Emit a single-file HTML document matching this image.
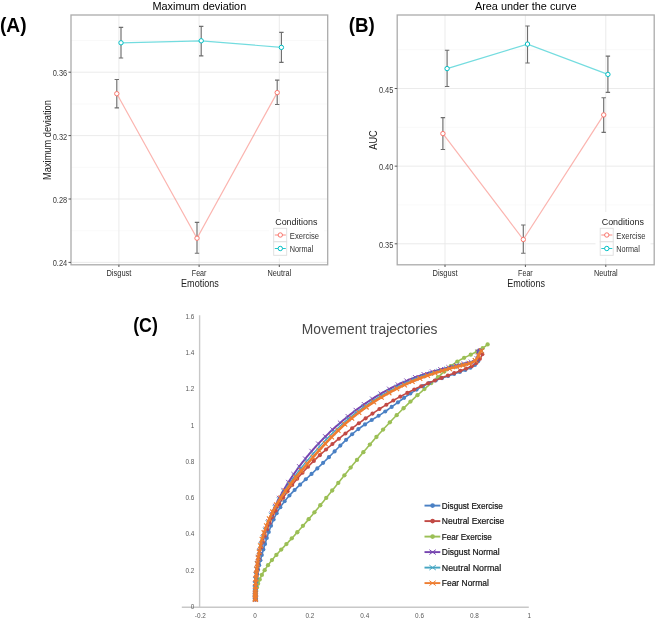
<!DOCTYPE html>
<html><head><meta charset="utf-8"><style>
html,body{margin:0;padding:0;background:#fff;width:660px;height:620px;overflow:hidden;position:relative}
svg{filter:blur(0.4px)}
</style></head><body>
<svg width="660" height="620" viewBox="0 0 660 620" style="position:absolute;left:0;top:0">
<g font-family='"Liberation Sans", sans-serif'>
<line x1="71" x2="327.7" y1="230.7" y2="230.7" stroke="#f7f7f7" stroke-width="0.8"/>
<line x1="71" x2="327.7" y1="167.3" y2="167.3" stroke="#f7f7f7" stroke-width="0.8"/>
<line x1="71" x2="327.7" y1="103.9" y2="103.9" stroke="#f7f7f7" stroke-width="0.8"/>
<line x1="71" x2="327.7" y1="40.5" y2="40.5" stroke="#f7f7f7" stroke-width="0.8"/>
<line x1="71" x2="327.7" y1="262.4" y2="262.4" stroke="#e9e9e9" stroke-width="0.9"/>
<line x1="71" x2="327.7" y1="199" y2="199" stroke="#e9e9e9" stroke-width="0.9"/>
<line x1="71" x2="327.7" y1="135.6" y2="135.6" stroke="#e9e9e9" stroke-width="0.9"/>
<line x1="71" x2="327.7" y1="72.2" y2="72.2" stroke="#e9e9e9" stroke-width="0.9"/>
<line x1="118.9" x2="118.9" y1="15.0" y2="264.8" stroke="#e9e9e9" stroke-width="0.9"/>
<line x1="199.1" x2="199.1" y1="15.0" y2="264.8" stroke="#e9e9e9" stroke-width="0.9"/>
<line x1="279.3" x2="279.3" y1="15.0" y2="264.8" stroke="#e9e9e9" stroke-width="0.9"/>
<rect x="269" y="212" width="55" height="46.5" fill="#fff"/>
<polyline points="116.8,93.7 197,238.2 277.2,92.6" fill="none" stroke="#F8766D" stroke-width="1.2" opacity="0.55"/>
<polyline points="121,42.8 201.2,40.8 281.4,47.4" fill="none" stroke="#00BFC4" stroke-width="1.2" opacity="0.55"/>
<path d="M116.8 79.5V107.8M114.6 79.5H119M114.6 107.8H119" stroke="#6e6e6e" stroke-width="1.15" fill="none"/>
<path d="M197 222.4V253.2M194.8 222.4H199.2M194.8 253.2H199.2" stroke="#6e6e6e" stroke-width="1.15" fill="none"/>
<path d="M277.2 80.1V104.5M275 80.1H279.4M275 104.5H279.4" stroke="#6e6e6e" stroke-width="1.15" fill="none"/>
<path d="M121 27.3V58M118.8 27.3H123.2M118.8 58H123.2" stroke="#6e6e6e" stroke-width="1.15" fill="none"/>
<path d="M201.2 26.3V55.9M199 26.3H203.4M199 55.9H203.4" stroke="#6e6e6e" stroke-width="1.15" fill="none"/>
<path d="M281.4 32.3V62.3M279.2 32.3H283.6M279.2 62.3H283.6" stroke="#6e6e6e" stroke-width="1.15" fill="none"/>
<circle cx="116.8" cy="93.7" r="2.2" fill="#fff" stroke="#F8766D" stroke-width="1"/>
<circle cx="197" cy="238.2" r="2.2" fill="#fff" stroke="#F8766D" stroke-width="1"/>
<circle cx="277.2" cy="92.6" r="2.2" fill="#fff" stroke="#F8766D" stroke-width="1"/>
<circle cx="121" cy="42.8" r="2.2" fill="#fff" stroke="#00BFC4" stroke-width="1"/>
<circle cx="201.2" cy="40.8" r="2.2" fill="#fff" stroke="#00BFC4" stroke-width="1"/>
<circle cx="281.4" cy="47.4" r="2.2" fill="#fff" stroke="#00BFC4" stroke-width="1"/>
<rect x="71" y="15.0" width="256.7" height="249.8" fill="none" stroke="#ababab" stroke-width="1.3"/>
<line x1="68.5" x2="71" y1="262.4" y2="262.4" stroke="#555" stroke-width="1"/>
<text transform="translate(67.2,266.4) scale(0.980,1.220)" font-size="7.6" fill="#3c3c3c" text-anchor="end">0.24</text>
<line x1="68.5" x2="71" y1="199" y2="199" stroke="#555" stroke-width="1"/>
<text transform="translate(67.2,203) scale(0.980,1.220)" font-size="7.6" fill="#3c3c3c" text-anchor="end">0.28</text>
<line x1="68.5" x2="71" y1="135.6" y2="135.6" stroke="#555" stroke-width="1"/>
<text transform="translate(67.2,139.6) scale(0.980,1.220)" font-size="7.6" fill="#3c3c3c" text-anchor="end">0.32</text>
<line x1="68.5" x2="71" y1="72.2" y2="72.2" stroke="#555" stroke-width="1"/>
<text transform="translate(67.2,76.2) scale(0.980,1.220)" font-size="7.6" fill="#3c3c3c" text-anchor="end">0.36</text>
<line x1="118.9" x2="118.9" y1="264.8" y2="267" stroke="#555" stroke-width="1"/>
<text transform="translate(118.9,275.9) scale(1.000,1.300)" font-size="7.5" fill="#2c2c2c" text-anchor="middle">Disgust</text>
<line x1="199.1" x2="199.1" y1="264.8" y2="267" stroke="#555" stroke-width="1"/>
<text transform="translate(199.1,275.9) scale(0.947,1.300)" font-size="7.5" fill="#2c2c2c" text-anchor="middle">Fear</text>
<line x1="279.3" x2="279.3" y1="264.8" y2="267" stroke="#555" stroke-width="1"/>
<text transform="translate(279.3,275.9) scale(0.980,1.300)" font-size="7.5" fill="#2c2c2c" text-anchor="middle">Neutral</text>
<text transform="translate(199.9,286.8) scale(0.994,1.180)" font-size="9.1" fill="#222" text-anchor="middle">Emotions</text>
<text transform="translate(199.35,9.5) scale(1.000,1.050)" font-size="10.9" fill="#000" text-anchor="middle">Maximum deviation</text>
<g transform="translate(50.5,140) rotate(-90)">
<text transform="translate(0,0) scale(1.021,1.150)" font-size="9.1" fill="#222" text-anchor="middle">Maximum deviation</text>
</g>
<text transform="translate(275.2,225.1) scale(0.973,1.050)" font-size="9.2" fill="#222" text-anchor="start">Conditions</text>
<rect x="273.7" y="228.3" width="13" height="13.5" fill="#fff" stroke="#dedede" stroke-width="0.9"/>
<line x1="274.8" x2="285.8" y1="235" y2="235" stroke="#F8766D" stroke-width="1" opacity="0.85"/>
<circle cx="280.3" cy="235" r="2.2" fill="#fff" stroke="#F8766D" stroke-width="1"/>
<text transform="translate(289.8,238.7) scale(0.992,1.100)" font-size="7.7" fill="#333" text-anchor="start">Exercise</text>
<rect x="273.7" y="241.8" width="13" height="13.5" fill="#fff" stroke="#dedede" stroke-width="0.9"/>
<line x1="274.8" x2="285.8" y1="248.5" y2="248.5" stroke="#00BFC4" stroke-width="1" opacity="0.85"/>
<circle cx="280.3" cy="248.5" r="2.2" fill="#fff" stroke="#00BFC4" stroke-width="1"/>
<text transform="translate(289.8,252.2) scale(0.947,1.100)" font-size="7.7" fill="#333" text-anchor="start">Normal</text>
<line x1="397.2" x2="654.2" y1="204.98" y2="204.98" stroke="#f7f7f7" stroke-width="0.8"/>
<line x1="397.2" x2="654.2" y1="127.33" y2="127.33" stroke="#f7f7f7" stroke-width="0.8"/>
<line x1="397.2" x2="654.2" y1="49.68" y2="49.68" stroke="#f7f7f7" stroke-width="0.8"/>
<line x1="397.2" x2="654.2" y1="243.8" y2="243.8" stroke="#e9e9e9" stroke-width="0.9"/>
<line x1="397.2" x2="654.2" y1="166.15" y2="166.15" stroke="#e9e9e9" stroke-width="0.9"/>
<line x1="397.2" x2="654.2" y1="88.5" y2="88.5" stroke="#e9e9e9" stroke-width="0.9"/>
<line x1="445" x2="445" y1="15.0" y2="264.8" stroke="#e9e9e9" stroke-width="0.9"/>
<line x1="525.4" x2="525.4" y1="15.0" y2="264.8" stroke="#e9e9e9" stroke-width="0.9"/>
<line x1="605.8" x2="605.8" y1="15.0" y2="264.8" stroke="#e9e9e9" stroke-width="0.9"/>
<rect x="595.5" y="212" width="55" height="46.5" fill="#fff"/>
<polyline points="442.9,133.6 523.3,239.5 603.7,114.9" fill="none" stroke="#F8766D" stroke-width="1.2" opacity="0.55"/>
<polyline points="447.1,68.6 527.5,44.1 607.9,74.4" fill="none" stroke="#00BFC4" stroke-width="1.2" opacity="0.55"/>
<path d="M442.9 117.6V149.5M440.7 117.6H445.1M440.7 149.5H445.1" stroke="#6e6e6e" stroke-width="1.15" fill="none"/>
<path d="M523.3 225V253.2M521.1 225H525.5M521.1 253.2H525.5" stroke="#6e6e6e" stroke-width="1.15" fill="none"/>
<path d="M603.7 97.7V132.3M601.5 97.7H605.9M601.5 132.3H605.9" stroke="#6e6e6e" stroke-width="1.15" fill="none"/>
<path d="M447.1 50.2V86.5M444.9 50.2H449.3M444.9 86.5H449.3" stroke="#6e6e6e" stroke-width="1.15" fill="none"/>
<path d="M527.5 26V63M525.3 26H529.7M525.3 63H529.7" stroke="#6e6e6e" stroke-width="1.15" fill="none"/>
<path d="M607.9 56.1V92.3M605.7 56.1H610.1M605.7 92.3H610.1" stroke="#6e6e6e" stroke-width="1.15" fill="none"/>
<circle cx="442.9" cy="133.6" r="2.2" fill="#fff" stroke="#F8766D" stroke-width="1"/>
<circle cx="523.3" cy="239.5" r="2.2" fill="#fff" stroke="#F8766D" stroke-width="1"/>
<circle cx="603.7" cy="114.9" r="2.2" fill="#fff" stroke="#F8766D" stroke-width="1"/>
<circle cx="447.1" cy="68.6" r="2.2" fill="#fff" stroke="#00BFC4" stroke-width="1"/>
<circle cx="527.5" cy="44.1" r="2.2" fill="#fff" stroke="#00BFC4" stroke-width="1"/>
<circle cx="607.9" cy="74.4" r="2.2" fill="#fff" stroke="#00BFC4" stroke-width="1"/>
<rect x="397.2" y="15.0" width="257" height="249.8" fill="none" stroke="#ababab" stroke-width="1.3"/>
<line x1="394.7" x2="397.2" y1="243.8" y2="243.8" stroke="#555" stroke-width="1"/>
<text transform="translate(393.4,247.8) scale(0.980,1.220)" font-size="7.6" fill="#3c3c3c" text-anchor="end">0.35</text>
<line x1="394.7" x2="397.2" y1="166.15" y2="166.15" stroke="#555" stroke-width="1"/>
<text transform="translate(393.4,170.15) scale(0.980,1.220)" font-size="7.6" fill="#3c3c3c" text-anchor="end">0.40</text>
<line x1="394.7" x2="397.2" y1="88.5" y2="88.5" stroke="#555" stroke-width="1"/>
<text transform="translate(393.4,92.5) scale(0.980,1.220)" font-size="7.6" fill="#3c3c3c" text-anchor="end">0.45</text>
<line x1="445" x2="445" y1="264.8" y2="267" stroke="#555" stroke-width="1"/>
<text transform="translate(445,275.9) scale(1.000,1.300)" font-size="7.5" fill="#2c2c2c" text-anchor="middle">Disgust</text>
<line x1="525.4" x2="525.4" y1="264.8" y2="267" stroke="#555" stroke-width="1"/>
<text transform="translate(525.4,275.9) scale(0.947,1.300)" font-size="7.5" fill="#2c2c2c" text-anchor="middle">Fear</text>
<line x1="605.8" x2="605.8" y1="264.8" y2="267" stroke="#555" stroke-width="1"/>
<text transform="translate(605.8,275.9) scale(0.980,1.300)" font-size="7.5" fill="#2c2c2c" text-anchor="middle">Neutral</text>
<text transform="translate(526.1,286.8) scale(0.994,1.180)" font-size="9.1" fill="#222" text-anchor="middle">Emotions</text>
<text transform="translate(525.7,9.5) scale(1.000,1.050)" font-size="10.9" fill="#000" text-anchor="middle">Area under the curve</text>
<g transform="translate(376.8,140) rotate(-90)">
<text transform="translate(0,0) scale(1.015,1.150)" font-size="9.1" fill="#222" text-anchor="middle">AUC</text>
</g>
<text transform="translate(601.7,225.1) scale(0.973,1.050)" font-size="9.2" fill="#222" text-anchor="start">Conditions</text>
<rect x="600.2" y="228.3" width="13" height="13.5" fill="#fff" stroke="#dedede" stroke-width="0.9"/>
<line x1="601.3" x2="612.3" y1="235" y2="235" stroke="#F8766D" stroke-width="1" opacity="0.85"/>
<circle cx="606.8" cy="235" r="2.2" fill="#fff" stroke="#F8766D" stroke-width="1"/>
<text transform="translate(616.3,238.7) scale(0.992,1.100)" font-size="7.7" fill="#333" text-anchor="start">Exercise</text>
<rect x="600.2" y="241.8" width="13" height="13.5" fill="#fff" stroke="#dedede" stroke-width="0.9"/>
<line x1="601.3" x2="612.3" y1="248.5" y2="248.5" stroke="#00BFC4" stroke-width="1" opacity="0.85"/>
<circle cx="606.8" cy="248.5" r="2.2" fill="#fff" stroke="#00BFC4" stroke-width="1"/>
<text transform="translate(616.3,252.2) scale(0.947,1.100)" font-size="7.7" fill="#333" text-anchor="start">Normal</text>
<text transform="translate(0,31.9) scale(1.029,1.040)" font-size="18.6" fill="#000" text-anchor="start" font-weight="bold">(A)</text>
<text transform="translate(348.8,31.9) scale(1.008,1.040)" font-size="18.6" fill="#000" text-anchor="start" font-weight="bold">(B)</text>
<text transform="translate(133.2,331.6) scale(0.953,1.040)" font-size="18.6" fill="#000" text-anchor="start" font-weight="bold">(C)</text>
<line x1="199.6" x2="199.6" y1="315.3" y2="607.3" stroke="#c8c8c8" stroke-width="1.4"/>
<line x1="181.8" x2="528.8" y1="607.3" y2="607.3" stroke="#c8c8c8" stroke-width="1.4"/>
<text transform="translate(194.4,609.1) scale(1.000,1.100)" font-size="6.4" fill="#595959" text-anchor="end">0</text>
<text transform="translate(194.4,572.78) scale(1.000,1.100)" font-size="6.4" fill="#595959" text-anchor="end">0.2</text>
<text transform="translate(194.4,536.46) scale(1.000,1.100)" font-size="6.4" fill="#595959" text-anchor="end">0.4</text>
<text transform="translate(194.4,500.14) scale(1.000,1.100)" font-size="6.4" fill="#595959" text-anchor="end">0.6</text>
<text transform="translate(194.4,463.82) scale(1.000,1.100)" font-size="6.4" fill="#595959" text-anchor="end">0.8</text>
<text transform="translate(194.4,427.5) scale(1.000,1.100)" font-size="6.4" fill="#595959" text-anchor="end">1</text>
<text transform="translate(194.4,391.18) scale(1.000,1.100)" font-size="6.4" fill="#595959" text-anchor="end">1.2</text>
<text transform="translate(194.4,354.86) scale(1.000,1.100)" font-size="6.4" fill="#595959" text-anchor="end">1.4</text>
<text transform="translate(194.4,318.54) scale(1.000,1.100)" font-size="6.4" fill="#595959" text-anchor="end">1.6</text>
<text transform="translate(200.28,618.2) scale(1.000,1.100)" font-size="6.4" fill="#595959" text-anchor="middle">-0.2</text>
<text transform="translate(255.1,618.2) scale(1.000,1.100)" font-size="6.4" fill="#595959" text-anchor="middle">0</text>
<text transform="translate(309.92,618.2) scale(1.000,1.100)" font-size="6.4" fill="#595959" text-anchor="middle">0.2</text>
<text transform="translate(364.74,618.2) scale(1.000,1.100)" font-size="6.4" fill="#595959" text-anchor="middle">0.4</text>
<text transform="translate(419.56,618.2) scale(1.000,1.100)" font-size="6.4" fill="#595959" text-anchor="middle">0.6</text>
<text transform="translate(474.38,618.2) scale(1.000,1.100)" font-size="6.4" fill="#595959" text-anchor="middle">0.8</text>
<text transform="translate(529.2,618.2) scale(1.000,1.100)" font-size="6.4" fill="#595959" text-anchor="middle">1</text>
<text transform="translate(301.8,334.2)" font-size="13.8" fill="#484848" text-anchor="start">Movement trajectories</text>
<path d="M255.29 599.13 L255.38 597.26 L255.53 595.42 L255.75 593.6 L256.02 591.82 L256.35 590.07 L256.73 588.35 L257.17 586.65 L257.66 584.98 L258.2 583.33 L258.79 581.71 L259.43 580.12 L260.11 578.54 L260.83 576.99 L261.6 575.46 L262.4 573.95 L263.24 572.46 L264.12 570.99 L265.03 569.53 L265.98 568.09 L266.95 566.67 L267.96 565.26 L268.99 563.87 L270.05 562.49 L271.13 561.12 L272.23 559.76 L273.35 558.41 L274.49 557.07 L275.65 555.74 L276.82 554.42 L278 553.1 L279.2 551.79 L280.4 550.48 L281.62 549.18 L282.84 547.88 L284.06 546.58 L285.28 545.29 L286.51 543.99 L287.73 542.69 L288.95 541.4 L290.16 540.1 L291.37 538.79 L292.58 537.49 L293.77 536.18 L294.97 534.87 L296.15 533.55 L297.34 532.24 L298.51 530.92 L299.69 529.59 L300.85 528.27 L302.02 526.94 L303.17 525.61 L304.33 524.28 L305.48 522.95 L306.62 521.61 L307.77 520.28 L308.91 518.94 L310.04 517.6 L311.17 516.26 L312.3 514.91 L313.42 513.57 L314.55 512.22 L315.67 510.87 L316.78 509.52 L317.9 508.17 L319.01 506.81 L320.12 505.46 L321.22 504.1 L322.33 502.75 L323.43 501.39 L324.53 500.03 L325.63 498.67 L326.73 497.31 L327.83 495.95 L328.93 494.59 L330.02 493.23 L331.12 491.86 L332.21 490.5 L333.31 489.14 L334.4 487.77 L335.49 486.41 L336.59 485.05 L337.68 483.68 L338.77 482.32 L339.87 480.95 L340.96 479.59 L342.05 478.22 L343.15 476.86 L344.25 475.5 L345.34 474.13 L346.44 472.77 L347.54 471.41 L348.65 470.05 L349.75 468.68 L350.85 467.32 L351.96 465.96 L353.07 464.61 L354.18 463.25 L355.3 461.89 L356.41 460.54 L357.53 459.18 L358.65 457.83 L359.77 456.48 L360.9 455.13 L362.03 453.78 L363.16 452.43 L364.29 451.08 L365.43 449.74 L366.57 448.4 L367.71 447.06 L368.86 445.72 L370 444.39 L371.15 443.05 L372.31 441.72 L373.46 440.4 L374.62 439.07 L375.79 437.75 L376.95 436.43 L378.12 435.11 L379.3 433.8 L380.47 432.49 L381.65 431.18 L382.84 429.88 L384.02 428.58 L385.21 427.28 L386.41 425.98 L387.61 424.69 L388.81 423.41 L390.01 422.12 L391.22 420.85 L392.44 419.57 L393.65 418.3 L394.87 417.03 L396.1 415.77 L397.33 414.51 L398.56 413.26 L399.8 412.01 L401.04 410.77 L402.29 409.53 L403.54 408.29 L404.8 407.06 L406.06 405.84 L407.32 404.62 L408.59 403.41 L409.87 402.2 L411.15 400.99 L412.43 399.8 L413.72 398.6 L415.01 397.42 L416.31 396.24 L417.61 395.06 L418.92 393.89 L420.23 392.73 L421.55 391.57 L422.87 390.41 L424.2 389.26 L425.52 388.11 L426.85 386.96 L428.18 385.82 L429.5 384.67 L430.83 383.52 L432.16 382.37 L433.49 381.22 L434.81 380.06 L436.13 378.9 L437.45 377.74 L438.76 376.57 L440.07 375.39 L441.38 374.21 L442.68 373.02 L443.99 371.84 L445.3 370.67 L446.62 369.51 L447.95 368.37 L449.3 367.25 L450.66 366.16 L452.05 365.1 L453.45 364.07 L454.89 363.08 L456.35 362.13 L457.84 361.23 L459.35 360.36 L460.88 359.52 L462.43 358.7 L464 357.91 L465.58 357.13 L467.16 356.37 L468.75 355.6 L470.34 354.84 L471.93 354.08 L473.51 353.3 L475.08 352.5 L476.64 351.69 L478.18 350.85 L479.71 349.98 L481.21 349.08 L482.69 348.13 L484.14 347.14 L485.56 346.09 L486.94 344.99 L487.62 344.42" fill="none" stroke="#9BBF55" stroke-width="1.6" stroke-linejoin="round" stroke-linecap="round"/>
<g fill="#9BBF55"><circle cx="255.29" cy="599.13" r="2.15"/><circle cx="255.31" cy="598.79" r="2.15"/><circle cx="255.35" cy="597.77" r="2.15"/><circle cx="255.47" cy="596.11" r="2.15"/><circle cx="255.72" cy="593.83" r="2.15"/><circle cx="256.17" cy="590.97" r="2.15"/><circle cx="256.92" cy="587.58" r="2.15"/><circle cx="258.07" cy="583.72" r="2.15"/><circle cx="259.7" cy="579.48" r="2.15"/><circle cx="261.88" cy="574.92" r="2.15"/><circle cx="264.66" cy="570.13" r="2.15"/><circle cx="268.02" cy="565.18" r="2.15"/><circle cx="271.95" cy="560.1" r="2.15"/><circle cx="276.38" cy="554.91" r="2.15"/><circle cx="281.24" cy="549.58" r="2.15"/><circle cx="286.43" cy="544.07" r="2.15"/><circle cx="291.82" cy="538.3" r="2.15"/><circle cx="297.34" cy="532.23" r="2.15"/><circle cx="302.96" cy="525.86" r="2.15"/><circle cx="308.67" cy="519.22" r="2.15"/><circle cx="314.45" cy="512.33" r="2.15"/><circle cx="320.3" cy="505.23" r="2.15"/><circle cx="326.23" cy="497.94" r="2.15"/><circle cx="332.22" cy="490.5" r="2.15"/><circle cx="338.28" cy="482.93" r="2.15"/><circle cx="344.42" cy="475.28" r="2.15"/><circle cx="350.64" cy="467.59" r="2.15"/><circle cx="356.95" cy="459.88" r="2.15"/><circle cx="363.36" cy="452.19" r="2.15"/><circle cx="369.86" cy="444.56" r="2.15"/><circle cx="376.44" cy="437.01" r="2.15"/><circle cx="383.11" cy="429.57" r="2.15"/><circle cx="389.86" cy="422.29" r="2.15"/><circle cx="396.68" cy="415.18" r="2.15"/><circle cx="403.56" cy="408.27" r="2.15"/><circle cx="410.49" cy="401.61" r="2.15"/><circle cx="417.46" cy="395.2" r="2.15"/><circle cx="424.43" cy="389.06" r="2.15"/><circle cx="431.31" cy="383.11" r="2.15"/><circle cx="437.97" cy="377.27" r="2.15"/><circle cx="444.37" cy="371.5" r="2.15"/><circle cx="450.73" cy="366.11" r="2.15"/><circle cx="457.33" cy="361.53" r="2.15"/><circle cx="464.11" cy="357.86" r="2.15"/><circle cx="470.75" cy="354.64" r="2.15"/><circle cx="477" cy="351.5" r="2.15"/><circle cx="482.68" cy="348.14" r="2.15"/><circle cx="487.62" cy="344.42" r="2.15"/></g>
<path d="M255.29 599.5 L255.23 597.75 L255.2 596 L255.21 594.26 L255.24 592.52 L255.31 590.79 L255.4 589.06 L255.52 587.33 L255.67 585.61 L255.84 583.89 L256.04 582.18 L256.26 580.47 L256.51 578.76 L256.77 577.05 L257.06 575.35 L257.37 573.65 L257.69 571.96 L258.04 570.26 L258.4 568.57 L258.78 566.88 L259.17 565.2 L259.57 563.51 L259.99 561.83 L260.42 560.14 L260.87 558.46 L261.32 556.78 L261.78 555.1 L262.25 553.42 L262.73 551.75 L263.21 550.07 L263.7 548.39 L264.2 546.72 L264.69 545.04 L265.19 543.36 L265.7 541.69 L266.21 540.01 L266.72 538.34 L267.25 536.67 L267.78 535.01 L268.32 533.35 L268.88 531.7 L269.45 530.05 L270.03 528.42 L270.63 526.79 L271.25 525.17 L271.88 523.56 L272.54 521.96 L273.22 520.38 L273.92 518.81 L274.65 517.25 L275.4 515.71 L276.19 514.18 L277 512.67 L277.84 511.18 L278.71 509.71 L279.61 508.25 L280.55 506.82 L281.52 505.4 L282.52 504.01 L283.55 502.63 L284.6 501.26 L285.68 499.92 L286.78 498.59 L287.91 497.27 L289.06 495.96 L290.22 494.67 L291.41 493.39 L292.61 492.12 L293.82 490.86 L295.05 489.62 L296.29 488.38 L297.54 487.15 L298.79 485.92 L300.06 484.71 L301.33 483.5 L302.6 482.29 L303.88 481.09 L305.16 479.89 L306.44 478.7 L307.71 477.5 L308.99 476.31 L310.26 475.12 L311.52 473.93 L312.78 472.74 L314.04 471.56 L315.29 470.37 L316.54 469.18 L317.79 467.98 L319.03 466.79 L320.28 465.6 L321.51 464.4 L322.75 463.2 L323.98 462 L325.21 460.8 L326.44 459.59 L327.67 458.38 L328.89 457.16 L330.12 455.94 L331.34 454.72 L332.56 453.49 L333.77 452.25 L334.99 451.01 L336.21 449.77 L337.43 448.53 L338.65 447.29 L339.87 446.04 L341.1 444.8 L342.33 443.57 L343.57 442.34 L344.81 441.11 L346.06 439.9 L347.32 438.69 L348.58 437.5 L349.86 436.32 L351.15 435.15 L352.45 434 L353.76 432.87 L355.08 431.75 L356.42 430.66 L357.78 429.58 L359.15 428.53 L360.53 427.5 L361.94 426.5 L363.35 425.51 L364.78 424.54 L366.21 423.58 L367.66 422.63 L369.11 421.7 L370.57 420.77 L372.04 419.85 L373.51 418.93 L374.98 418.01 L376.45 417.1 L377.92 416.17 L379.39 415.25 L380.85 414.32 L382.31 413.37 L383.76 412.42 L385.21 411.45 L386.64 410.47 L388.07 409.48 L389.5 408.47 L390.92 407.46 L392.33 406.44 L393.75 405.42 L395.16 404.39 L396.56 403.36 L397.97 402.33 L399.38 401.3 L400.79 400.27 L402.2 399.24 L403.61 398.22 L405.03 397.21 L406.46 396.21 L407.88 395.22 L409.32 394.24 L410.76 393.27 L412.21 392.32 L413.67 391.39 L415.14 390.47 L416.63 389.57 L418.12 388.7 L419.63 387.84 L421.15 387.02 L422.68 386.21 L424.23 385.44 L425.79 384.68 L427.36 383.95 L428.95 383.24 L430.54 382.55 L432.15 381.87 L433.76 381.22 L435.38 380.57 L437.01 379.94 L438.65 379.33 L440.29 378.72 L441.93 378.13 L443.58 377.54 L445.23 376.96 L446.88 376.39 L448.54 375.82 L450.19 375.25 L451.84 374.69 L453.5 374.12 L455.15 373.56 L456.8 372.99 L458.44 372.42 L460.08 371.84 L461.71 371.26 L463.34 370.67 L464.96 370.07 L466.57 369.46 L468.16 368.82 L469.72 368.13 L471.24 367.37 L472.69 366.53 L474.08 365.59 L475.38 364.52 L476.58 363.32 L477.68 361.95 L478.18 361.19" fill="none" stroke="#4A80C4" stroke-width="1.6" stroke-linejoin="round" stroke-linecap="round"/>
<g fill="#4A80C4"><circle cx="255.29" cy="599.5" r="2.05"/><circle cx="255.28" cy="599.27" r="2.05"/><circle cx="255.25" cy="598.58" r="2.05"/><circle cx="255.22" cy="597.45" r="2.05"/><circle cx="255.2" cy="595.89" r="2.05"/><circle cx="255.21" cy="593.92" r="2.05"/><circle cx="255.27" cy="591.55" r="2.05"/><circle cx="255.42" cy="588.79" r="2.05"/><circle cx="255.66" cy="585.66" r="2.05"/><circle cx="256.04" cy="582.19" r="2.05"/><circle cx="256.56" cy="578.38" r="2.05"/><circle cx="257.26" cy="574.26" r="2.05"/><circle cx="258.13" cy="569.84" r="2.05"/><circle cx="259.18" cy="565.15" r="2.05"/><circle cx="260.41" cy="560.2" r="2.05"/><circle cx="261.81" cy="555" r="2.05"/><circle cx="263.36" cy="549.57" r="2.05"/><circle cx="265.03" cy="543.91" r="2.05"/><circle cx="266.82" cy="538.04" r="2.05"/><circle cx="268.78" cy="531.98" r="2.05"/><circle cx="271.01" cy="525.78" r="2.05"/><circle cx="273.6" cy="519.52" r="2.05"/><circle cx="276.67" cy="513.27" r="2.05"/><circle cx="280.34" cy="507.14" r="2.05"/><circle cx="284.62" cy="501.24" r="2.05"/><circle cx="289.43" cy="495.55" r="2.05"/><circle cx="294.63" cy="490.04" r="2.05"/><circle cx="300.12" cy="484.65" r="2.05"/><circle cx="305.8" cy="479.3" r="2.05"/><circle cx="311.56" cy="473.9" r="2.05"/><circle cx="317.34" cy="468.41" r="2.05"/><circle cx="323.13" cy="462.84" r="2.05"/><circle cx="328.89" cy="457.16" r="2.05"/><circle cx="334.62" cy="451.4" r="2.05"/><circle cx="340.33" cy="445.58" r="2.05"/><circle cx="346.13" cy="439.83" r="2.05"/><circle cx="352.12" cy="434.29" r="2.05"/><circle cx="358.39" cy="429.11" r="2.05"/><circle cx="365" cy="424.39" r="2.05"/><circle cx="371.78" cy="420.01" r="2.05"/><circle cx="378.58" cy="415.76" r="2.05"/><circle cx="385.24" cy="411.43" r="2.05"/><circle cx="391.68" cy="406.91" r="2.05"/><circle cx="397.95" cy="402.34" r="2.05"/><circle cx="404.15" cy="397.84" r="2.05"/><circle cx="410.35" cy="393.55" r="2.05"/><circle cx="416.59" cy="389.59" r="2.05"/><circle cx="422.94" cy="386.09" r="2.05"/><circle cx="429.34" cy="383.07" r="2.05"/><circle cx="435.73" cy="380.44" r="2.05"/><circle cx="442.02" cy="378.1" r="2.05"/><circle cx="448.17" cy="375.95" r="2.05"/><circle cx="454.13" cy="373.91" r="2.05"/><circle cx="459.86" cy="371.92" r="2.05"/><circle cx="465.32" cy="369.93" r="2.05"/><circle cx="470.45" cy="367.78" r="2.05"/><circle cx="474.9" cy="364.94" r="2.05"/><circle cx="478.18" cy="361.19" r="2.05"/></g>
<path d="M255.4 599.52 L255.35 597.73 L255.31 595.93 L255.29 594.13 L255.29 592.33 L255.31 590.54 L255.34 588.74 L255.4 586.94 L255.47 585.15 L255.56 583.36 L255.67 581.56 L255.79 579.77 L255.94 577.98 L256.1 576.19 L256.28 574.41 L256.47 572.63 L256.69 570.84 L256.92 569.07 L257.17 567.29 L257.44 565.52 L257.72 563.75 L258.03 561.98 L258.35 560.22 L258.69 558.46 L259.04 556.7 L259.42 554.95 L259.81 553.2 L260.21 551.46 L260.64 549.72 L261.08 547.99 L261.54 546.26 L262.02 544.54 L262.51 542.82 L263.03 541.11 L263.55 539.4 L264.1 537.7 L264.66 536 L265.24 534.31 L265.84 532.63 L266.45 530.96 L267.08 529.29 L267.73 527.63 L268.4 525.97 L269.08 524.33 L269.78 522.69 L270.49 521.05 L271.22 519.43 L271.97 517.82 L272.74 516.21 L273.52 514.61 L274.32 513.02 L275.13 511.44 L275.96 509.87 L276.81 508.3 L277.68 506.75 L278.56 505.21 L279.45 503.67 L280.37 502.15 L281.3 500.64 L282.24 499.13 L283.2 497.64 L284.18 496.15 L285.17 494.68 L286.18 493.21 L287.2 491.75 L288.23 490.31 L289.28 488.87 L290.34 487.44 L291.42 486.02 L292.51 484.61 L293.61 483.21 L294.73 481.81 L295.85 480.43 L296.99 479.05 L298.14 477.69 L299.31 476.33 L300.48 474.98 L301.67 473.63 L302.87 472.3 L304.07 470.97 L305.29 469.65 L306.52 468.34 L307.76 467.04 L309.01 465.75 L310.26 464.46 L311.53 463.18 L312.81 461.91 L314.09 460.65 L315.38 459.39 L316.68 458.14 L317.99 456.9 L319.31 455.66 L320.63 454.43 L321.97 453.21 L323.3 452 L324.65 450.79 L326 449.59 L327.36 448.39 L328.72 447.21 L330.09 446.03 L331.46 444.85 L332.84 443.68 L334.23 442.52 L335.62 441.36 L337.01 440.21 L338.41 439.07 L339.81 437.93 L341.21 436.8 L342.62 435.67 L344.03 434.55 L345.45 433.43 L346.86 432.32 L348.28 431.22 L349.71 430.12 L351.13 429.03 L352.56 427.94 L353.99 426.86 L355.42 425.78 L356.86 424.71 L358.3 423.65 L359.74 422.59 L361.19 421.54 L362.63 420.49 L364.09 419.45 L365.54 418.42 L367 417.4 L368.46 416.38 L369.93 415.37 L371.4 414.36 L372.88 413.36 L374.35 412.37 L375.84 411.39 L377.32 410.41 L378.81 409.44 L380.31 408.48 L381.81 407.52 L383.31 406.58 L384.82 405.64 L386.33 404.71 L387.85 403.78 L389.37 402.87 L390.89 401.96 L392.42 401.06 L393.96 400.17 L395.5 399.28 L397.05 398.41 L398.6 397.54 L400.15 396.69 L401.72 395.84 L403.28 395 L404.86 394.16 L406.43 393.34 L408.02 392.53 L409.61 391.72 L411.2 390.93 L412.8 390.14 L414.41 389.36 L416.02 388.6 L417.64 387.84 L419.26 387.09 L420.9 386.35 L422.53 385.62 L424.18 384.9 L425.82 384.19 L427.48 383.49 L429.14 382.79 L430.8 382.11 L432.47 381.43 L434.14 380.76 L435.82 380.09 L437.49 379.43 L439.17 378.77 L440.86 378.12 L442.54 377.47 L444.23 376.83 L445.91 376.19 L447.6 375.56 L449.29 374.92 L450.98 374.29 L452.67 373.66 L454.36 373.03 L456.04 372.4 L457.73 371.77 L459.41 371.14 L461.09 370.52 L462.77 369.88 L464.44 369.25 L466.12 368.62 L467.78 367.97 L469.41 367.28 L471.01 366.55 L472.57 365.74 L474.06 364.85 L475.47 363.84 L476.81 362.71 L478.04 361.43 L479.17 359.99 L480.19 358.44 L481.12 356.8 L481.97 355.14 L482.37 354.31" fill="none" stroke="#C24A45" stroke-width="1.6" stroke-linejoin="round" stroke-linecap="round"/>
<g fill="#C24A45"><circle cx="255.4" cy="599.52" r="2.05"/><circle cx="255.4" cy="599.28" r="2.05"/><circle cx="255.37" cy="598.57" r="2.05"/><circle cx="255.34" cy="597.41" r="2.05"/><circle cx="255.31" cy="595.8" r="2.05"/><circle cx="255.29" cy="593.77" r="2.05"/><circle cx="255.3" cy="591.32" r="2.05"/><circle cx="255.35" cy="588.47" r="2.05"/><circle cx="255.47" cy="585.23" r="2.05"/><circle cx="255.66" cy="581.63" r="2.05"/><circle cx="255.96" cy="577.67" r="2.05"/><circle cx="256.39" cy="573.38" r="2.05"/><circle cx="256.96" cy="568.77" r="2.05"/><circle cx="257.71" cy="563.86" r="2.05"/><circle cx="258.64" cy="558.68" r="2.05"/><circle cx="259.8" cy="553.25" r="2.05"/><circle cx="261.19" cy="547.58" r="2.05"/><circle cx="262.84" cy="541.72" r="2.05"/><circle cx="264.77" cy="535.68" r="2.05"/><circle cx="267" cy="529.5" r="2.05"/><circle cx="269.55" cy="523.21" r="2.05"/><circle cx="272.44" cy="516.83" r="2.05"/><circle cx="275.68" cy="510.41" r="2.05"/><circle cx="279.28" cy="503.98" r="2.05"/><circle cx="283.24" cy="497.58" r="2.05"/><circle cx="287.57" cy="491.23" r="2.05"/><circle cx="292.24" cy="484.95" r="2.05"/><circle cx="297.23" cy="478.77" r="2.05"/><circle cx="302.51" cy="472.69" r="2.05"/><circle cx="308.06" cy="466.73" r="2.05"/><circle cx="313.85" cy="460.88" r="2.05"/><circle cx="319.85" cy="455.16" r="2.05"/><circle cx="326.04" cy="449.55" r="2.05"/><circle cx="332.39" cy="444.07" r="2.05"/><circle cx="338.86" cy="438.7" r="2.05"/><circle cx="345.45" cy="433.44" r="2.05"/><circle cx="352.11" cy="428.28" r="2.05"/><circle cx="358.84" cy="423.25" r="2.05"/><circle cx="365.64" cy="418.36" r="2.05"/><circle cx="372.49" cy="413.62" r="2.05"/><circle cx="379.4" cy="409.06" r="2.05"/><circle cx="386.35" cy="404.7" r="2.05"/><circle cx="393.32" cy="400.54" r="2.05"/><circle cx="400.3" cy="396.6" r="2.05"/><circle cx="407.29" cy="392.9" r="2.05"/><circle cx="414.25" cy="389.44" r="2.05"/><circle cx="421.18" cy="386.22" r="2.05"/><circle cx="428.04" cy="383.25" r="2.05"/><circle cx="434.81" cy="380.49" r="2.05"/><circle cx="441.45" cy="377.89" r="2.05"/><circle cx="447.93" cy="375.43" r="2.05"/><circle cx="454.23" cy="373.08" r="2.05"/><circle cx="460.31" cy="370.81" r="2.05"/><circle cx="466.17" cy="368.6" r="2.05"/><circle cx="471.68" cy="366.22" r="2.05"/><circle cx="476.44" cy="363.04" r="2.05"/><circle cx="479.92" cy="358.86" r="2.05"/><circle cx="482.37" cy="354.31" r="2.05"/></g>
<path d="M255.46 599.12 L255.38 597.25 L255.32 595.38 L255.28 593.52 L255.26 591.65 L255.26 589.79 L255.28 587.94 L255.31 586.09 L255.37 584.24 L255.45 582.39 L255.54 580.55 L255.65 578.71 L255.78 576.88 L255.93 575.05 L256.09 573.22 L256.28 571.39 L256.48 569.57 L256.7 567.76 L256.94 565.95 L257.19 564.14 L257.47 562.33 L257.76 560.53 L258.06 558.74 L258.39 556.95 L258.73 555.16 L259.09 553.38 L259.46 551.6 L259.86 549.83 L260.26 548.06 L260.69 546.29 L261.13 544.53 L261.59 542.78 L262.06 541.03 L262.55 539.28 L263.05 537.54 L263.57 535.8 L264.11 534.07 L264.66 532.35 L265.23 530.62 L265.81 528.91 L266.41 527.2 L267.02 525.49 L267.65 523.79 L268.29 522.1 L268.95 520.41 L269.62 518.72 L270.31 517.05 L271.01 515.37 L271.72 513.71 L272.45 512.04 L273.2 510.39 L273.95 508.74 L274.73 507.09 L275.51 505.46 L276.31 503.82 L277.12 502.2 L277.95 500.58 L278.78 498.96 L279.64 497.36 L280.5 495.75 L281.38 494.16 L282.27 492.57 L283.17 490.99 L284.09 489.41 L285.02 487.84 L285.96 486.28 L286.91 484.72 L287.87 483.17 L288.85 481.63 L289.84 480.1 L290.84 478.57 L291.85 477.05 L292.88 475.53 L293.91 474.02 L294.96 472.52 L296.01 471.03 L297.08 469.54 L298.16 468.06 L299.25 466.59 L300.36 465.12 L301.47 463.67 L302.59 462.22 L303.72 460.78 L304.87 459.34 L306.02 457.91 L307.18 456.49 L308.36 455.08 L309.54 453.68 L310.73 452.28 L311.94 450.9 L313.15 449.52 L314.37 448.14 L315.6 446.78 L316.84 445.42 L318.09 444.08 L319.35 442.74 L320.62 441.41 L321.89 440.08 L323.18 438.77 L324.47 437.47 L325.77 436.17 L327.08 434.88 L328.4 433.6 L329.72 432.33 L331.06 431.07 L332.4 429.81 L333.75 428.57 L335.11 427.33 L336.47 426.11 L337.84 424.89 L339.22 423.68 L340.61 422.48 L342 421.29 L343.4 420.11 L344.81 418.94 L346.22 417.78 L347.64 416.63 L349.07 415.48 L350.5 414.35 L351.94 413.23 L353.39 412.11 L354.84 411.01 L356.3 409.91 L357.77 408.83 L359.24 407.76 L360.72 406.69 L362.2 405.64 L363.7 404.6 L365.2 403.57 L366.7 402.55 L368.21 401.54 L369.73 400.54 L371.26 399.55 L372.79 398.57 L374.33 397.61 L375.88 396.66 L377.43 395.71 L378.99 394.78 L380.55 393.86 L382.12 392.96 L383.7 392.06 L385.29 391.18 L386.88 390.31 L388.48 389.45 L390.08 388.6 L391.69 387.77 L393.31 386.94 L394.94 386.13 L396.57 385.34 L398.21 384.55 L399.85 383.78 L401.5 383.03 L403.16 382.28 L404.83 381.55 L406.5 380.83 L408.18 380.13 L409.86 379.44 L411.55 378.76 L413.25 378.09 L414.96 377.44 L416.67 376.81 L418.39 376.19 L420.11 375.58 L421.85 374.98 L423.58 374.41 L425.33 373.84 L427.08 373.29 L428.83 372.75 L430.59 372.22 L432.36 371.7 L434.13 371.19 L435.9 370.69 L437.67 370.2 L439.45 369.72 L441.23 369.25 L443.01 368.79 L444.79 368.33 L446.58 367.88 L448.36 367.44 L450.14 367 L451.92 366.56 L453.71 366.13 L455.49 365.7 L457.26 365.27 L459.04 364.85 L460.81 364.43 L462.58 364 L464.34 363.58 L466.11 363.16 L467.86 362.74 L469.61 362.31 L471.36 361.89 L473.09 361.44 L474.72 360.82 L476.11 359.76 L477.14 358.04 L477.66 355.39 L477.84 352.12 L478.39 349.61 L480.07 349.32 L481.59 350.48" fill="none" stroke="#7645B0" stroke-width="2.0" stroke-linejoin="round" stroke-linecap="round"/>
<path d="M253.16 596.82l4.6 4.6M253.16 601.42l4.6 -4.6M253.14 596.49l4.6 4.6M253.14 601.09l4.6 -4.6M253.1 595.5l4.6 4.6M253.1 600.1l4.6 -4.6M253.04 593.89l4.6 4.6M253.04 598.49l4.6 -4.6M252.99 591.66l4.6 4.6M252.99 596.26l4.6 -4.6M252.96 588.85l4.6 4.6M252.96 593.45l4.6 -4.6M252.98 585.48l4.6 4.6M252.98 590.08l4.6 -4.6M253.08 581.57l4.6 4.6M253.08 586.17l4.6 -4.6M253.3 577.14l4.6 4.6M253.3 581.74l4.6 -4.6M253.67 572.23l4.6 4.6M253.67 576.83l4.6 -4.6M254.23 566.86l4.6 4.6M254.23 571.46l4.6 -4.6M255.01 561.07l4.6 4.6M255.01 565.67l4.6 -4.6M256.05 554.88l4.6 4.6M256.05 559.48l4.6 -4.6M257.38 548.33l4.6 4.6M257.38 552.93l4.6 -4.6M259.03 541.47l4.6 4.6M259.03 546.07l4.6 -4.6M261.03 534.32l4.6 4.6M261.03 538.92l4.6 -4.6M263.4 526.93l4.6 4.6M263.4 531.53l4.6 -4.6M266.17 519.35l4.6 4.6M266.17 523.95l4.6 -4.6M269.34 511.61l4.6 4.6M269.34 516.21l4.6 -4.6M272.92 503.75l4.6 4.6M272.92 508.35l4.6 -4.6M276.93 495.83l4.6 4.6M276.93 500.43l4.6 -4.6M281.35 487.87l4.6 4.6M281.35 492.47l4.6 -4.6M286.18 479.91l4.6 4.6M286.18 484.51l4.6 -4.6M291.42 472l4.6 4.6M291.42 476.6l4.6 -4.6M297.04 464.17l4.6 4.6M297.04 468.77l4.6 -4.6M303.04 456.45l4.6 4.6M303.04 461.05l4.6 -4.6M309.4 448.87l4.6 4.6M309.4 453.47l4.6 -4.6M316.08 441.47l4.6 4.6M316.08 446.07l4.6 -4.6M323.08 434.26l4.6 4.6M323.08 438.86l4.6 -4.6M330.36 427.28l4.6 4.6M330.36 431.88l4.6 -4.6M337.89 420.54l4.6 4.6M337.89 425.14l4.6 -4.6M345.66 414.07l4.6 4.6M345.66 418.67l4.6 -4.6M353.63 407.89l4.6 4.6M353.63 412.49l4.6 -4.6M361.78 402.03l4.6 4.6M361.78 406.63l4.6 -4.6M370.09 396.53l4.6 4.6M370.09 401.13l4.6 -4.6M378.53 391.4l4.6 4.6M378.53 396l4.6 -4.6M387.08 386.67l4.6 4.6M387.08 391.27l4.6 -4.6M395.68 382.36l4.6 4.6M395.68 386.96l4.6 -4.6M404.32 378.48l4.6 4.6M404.32 383.08l4.6 -4.6M412.94 375.04l4.6 4.6M412.94 379.64l4.6 -4.6M421.51 372.03l4.6 4.6M421.51 376.63l4.6 -4.6M429.97 369.42l4.6 4.6M429.97 374.02l4.6 -4.6M438.27 367.13l4.6 4.6M438.27 371.73l4.6 -4.6M446.34 365.07l4.6 4.6M446.34 369.67l4.6 -4.6M454.15 363.17l4.6 4.6M454.15 367.77l4.6 -4.6M461.67 361.37l4.6 4.6M461.67 365.97l4.6 -4.6M468.84 359.64l4.6 4.6M468.84 364.24l4.6 -4.6M474.62 356.2l4.6 4.6M474.62 360.8l4.6 -4.6M475.56 349.67l4.6 4.6M475.56 354.27l4.6 -4.6M479.29 348.18l4.6 4.6M479.29 352.78l4.6 -4.6" stroke="#7645B0" stroke-width="0.9" fill="none"/>
<path d="M255.36 599.32 L255.33 597.49 L255.32 595.66 L255.31 593.82 L255.32 591.99 L255.35 590.15 L255.38 588.32 L255.43 586.48 L255.5 584.65 L255.58 582.82 L255.67 580.99 L255.78 579.16 L255.9 577.33 L256.04 575.5 L256.19 573.68 L256.36 571.86 L256.54 570.04 L256.74 568.22 L256.96 566.4 L257.19 564.59 L257.43 562.78 L257.7 560.98 L257.97 559.17 L258.27 557.38 L258.58 555.58 L258.91 553.79 L259.26 552 L259.63 550.22 L260.01 548.45 L260.41 546.67 L260.82 544.91 L261.26 543.15 L261.71 541.39 L262.18 539.64 L262.67 537.9 L263.18 536.16 L263.71 534.43 L264.26 532.7 L264.82 530.98 L265.41 529.27 L266.01 527.57 L266.64 525.87 L267.28 524.18 L267.94 522.49 L268.62 520.82 L269.31 519.15 L270.03 517.49 L270.76 515.83 L271.51 514.19 L272.27 512.55 L273.05 510.92 L273.85 509.3 L274.67 507.68 L275.5 506.08 L276.35 504.48 L277.21 502.89 L278.09 501.3 L278.99 499.73 L279.9 498.17 L280.83 496.61 L281.77 495.06 L282.72 493.52 L283.69 491.99 L284.67 490.46 L285.67 488.95 L286.68 487.44 L287.7 485.94 L288.73 484.44 L289.78 482.95 L290.83 481.47 L291.9 480 L292.98 478.53 L294.06 477.07 L295.16 475.62 L296.27 474.17 L297.38 472.72 L298.51 471.29 L299.64 469.85 L300.78 468.43 L301.93 467.01 L303.08 465.59 L304.24 464.18 L305.41 462.77 L306.58 461.37 L307.76 459.97 L308.94 458.58 L310.13 457.19 L311.33 455.81 L312.52 454.42 L313.73 453.05 L314.94 451.68 L316.15 450.31 L317.37 448.95 L318.6 447.6 L319.83 446.25 L321.07 444.91 L322.32 443.57 L323.57 442.24 L324.83 440.92 L326.09 439.61 L327.36 438.3 L328.64 437 L329.93 435.7 L331.22 434.42 L332.52 433.14 L333.83 431.87 L335.14 430.6 L336.46 429.35 L337.79 428.11 L339.13 426.87 L340.47 425.64 L341.83 424.43 L343.19 423.22 L344.56 422.02 L345.94 420.83 L347.33 419.65 L348.72 418.49 L350.13 417.33 L351.54 416.18 L352.96 415.04 L354.39 413.92 L355.82 412.8 L357.27 411.69 L358.72 410.6 L360.18 409.51 L361.65 408.44 L363.12 407.38 L364.61 406.32 L366.1 405.28 L367.6 404.25 L369.1 403.23 L370.61 402.22 L372.13 401.23 L373.66 400.24 L375.2 399.26 L376.74 398.3 L378.29 397.35 L379.84 396.41 L381.41 395.48 L382.98 394.56 L384.55 393.66 L386.14 392.76 L387.73 391.88 L389.32 391.01 L390.92 390.15 L392.53 389.3 L394.15 388.47 L395.77 387.65 L397.4 386.84 L399.04 386.04 L400.68 385.25 L402.32 384.48 L403.98 383.72 L405.63 382.97 L407.3 382.23 L408.97 381.51 L410.65 380.8 L412.33 380.1 L414.02 379.42 L415.71 378.75 L417.41 378.09 L419.11 377.44 L420.82 376.81 L422.54 376.19 L424.26 375.58 L425.98 374.99 L427.71 374.41 L429.44 373.84 L431.18 373.28 L432.92 372.73 L434.67 372.19 L436.42 371.66 L438.17 371.14 L439.92 370.64 L441.68 370.13 L443.44 369.64 L445.2 369.16 L446.96 368.68 L448.73 368.21 L450.49 367.74 L452.26 367.28 L454.03 366.83 L455.79 366.38 L457.56 365.93 L459.33 365.49 L461.1 365.06 L462.86 364.62 L464.63 364.19 L466.39 363.76 L468.14 363.31 L469.86 362.83 L471.55 362.28 L473.18 361.65 L474.7 360.84 L476.05 359.71 L477.14 358.14 L477.9 355.99 L478.45 353.48 L479.17 351.35 L480.49 350.45 L481.51 350.71" fill="none" stroke="#45A5C2" stroke-width="1.3" stroke-linejoin="round" stroke-linecap="round"/>
<path d="M253.06 597.02l4.6 4.6M253.06 601.62l4.6 -4.6M253.06 596.69l4.6 4.6M253.06 601.29l4.6 -4.6M253.04 595.72l4.6 4.6M253.04 600.32l4.6 -4.6M253.02 594.12l4.6 4.6M253.02 598.72l4.6 -4.6M253.01 591.92l4.6 4.6M253.01 596.52l4.6 -4.6M253.03 589.14l4.6 4.6M253.03 593.74l4.6 -4.6M253.09 585.8l4.6 4.6M253.09 590.4l4.6 -4.6M253.22 581.93l4.6 4.6M253.22 586.53l4.6 -4.6M253.44 577.55l4.6 4.6M253.44 582.15l4.6 -4.6M253.78 572.69l4.6 4.6M253.78 577.29l4.6 -4.6M254.28 567.37l4.6 4.6M254.28 571.97l4.6 -4.6M254.97 561.63l4.6 4.6M254.97 566.23l4.6 -4.6M255.9 555.49l4.6 4.6M255.9 560.09l4.6 -4.6M257.1 548.99l4.6 4.6M257.1 553.59l4.6 -4.6M258.63 542.17l4.6 4.6M258.63 546.77l4.6 -4.6M260.52 535.08l4.6 4.6M260.52 539.68l4.6 -4.6M262.84 527.76l4.6 4.6M262.84 532.36l4.6 -4.6M265.61 520.27l4.6 4.6M265.61 524.87l4.6 -4.6M268.85 512.66l4.6 4.6M268.85 517.26l4.6 -4.6M272.58 504.97l4.6 4.6M272.58 509.57l4.6 -4.6M276.79 497.26l4.6 4.6M276.79 501.86l4.6 -4.6M281.47 489.56l4.6 4.6M281.47 494.16l4.6 -4.6M286.6 481.91l4.6 4.6M286.6 486.51l4.6 -4.6M292.11 474.31l4.6 4.6M292.11 478.91l4.6 -4.6M297.96 466.77l4.6 4.6M297.96 471.37l4.6 -4.6M304.09 459.29l4.6 4.6M304.09 463.89l4.6 -4.6M310.46 451.86l4.6 4.6M310.46 456.46l4.6 -4.6M317.03 444.5l4.6 4.6M317.03 449.1l4.6 -4.6M323.84 437.26l4.6 4.6M323.84 441.86l4.6 -4.6M330.89 430.19l4.6 4.6M330.89 434.79l4.6 -4.6M338.18 423.34l4.6 4.6M338.18 427.94l4.6 -4.6M345.72 416.77l4.6 4.6M345.72 421.37l4.6 -4.6M353.5 410.52l4.6 4.6M353.5 415.12l4.6 -4.6M361.48 404.61l4.6 4.6M361.48 409.21l4.6 -4.6M369.63 399.06l4.6 4.6M369.63 403.66l4.6 -4.6M377.92 393.88l4.6 4.6M377.92 398.48l4.6 -4.6M386.31 389.09l4.6 4.6M386.31 393.69l4.6 -4.6M394.76 384.7l4.6 4.6M394.76 389.3l4.6 -4.6M403.24 380.71l4.6 4.6M403.24 385.31l4.6 -4.6M411.7 377.13l4.6 4.6M411.7 381.73l4.6 -4.6M420.1 373.94l4.6 4.6M420.1 378.54l4.6 -4.6M428.4 371.13l4.6 4.6M428.4 375.73l4.6 -4.6M436.54 368.65l4.6 4.6M436.54 373.25l4.6 -4.6M444.48 366.43l4.6 4.6M444.48 371.03l4.6 -4.6M452.18 364.41l4.6 4.6M452.18 369.01l4.6 -4.6M459.59 362.56l4.6 4.6M459.59 367.16l4.6 -4.6M466.68 360.79l4.6 4.6M466.68 365.39l4.6 -4.6M473.03 358.08l4.6 4.6M473.03 362.68l4.6 -4.6M475.9 352.35l4.6 4.6M475.9 356.95l4.6 -4.6M479.21 348.41l4.6 4.6M479.21 353.01l4.6 -4.6" stroke="#45A5C2" stroke-width="0.9" fill="none"/>
<path d="M255.29 599.49 L255.3 597.69 L255.32 595.88 L255.34 594.07 L255.37 592.26 L255.42 590.45 L255.47 588.63 L255.53 586.81 L255.6 584.99 L255.68 583.17 L255.78 581.35 L255.88 579.52 L256 577.7 L256.13 575.88 L256.27 574.06 L256.42 572.23 L256.59 570.41 L256.77 568.59 L256.97 566.78 L257.18 564.96 L257.4 563.15 L257.64 561.34 L257.9 559.53 L258.17 557.73 L258.46 555.92 L258.77 554.13 L259.09 552.34 L259.44 550.55 L259.8 548.76 L260.18 546.99 L260.57 545.21 L260.99 543.45 L261.43 541.69 L261.89 539.93 L262.36 538.19 L262.86 536.45 L263.38 534.71 L263.93 532.99 L264.49 531.27 L265.08 529.57 L265.69 527.87 L266.32 526.17 L266.97 524.49 L267.65 522.82 L268.34 521.15 L269.06 519.5 L269.79 517.85 L270.55 516.21 L271.33 514.58 L272.12 512.96 L272.94 511.35 L273.77 509.75 L274.62 508.16 L275.49 506.58 L276.38 505.01 L277.29 503.45 L278.22 501.9 L279.16 500.36 L280.12 498.83 L281.09 497.31 L282.09 495.8 L283.09 494.3 L284.12 492.81 L285.16 491.33 L286.21 489.85 L287.27 488.39 L288.35 486.93 L289.44 485.48 L290.54 484.04 L291.65 482.6 L292.77 481.17 L293.9 479.75 L295.04 478.33 L296.18 476.92 L297.34 475.51 L298.5 474.11 L299.67 472.72 L300.85 471.32 L302.03 469.93 L303.21 468.55 L304.4 467.16 L305.59 465.78 L306.79 464.41 L307.98 463.03 L309.18 461.66 L310.38 460.28 L311.58 458.91 L312.79 457.54 L313.99 456.18 L315.2 454.81 L316.4 453.45 L317.61 452.09 L318.83 450.73 L320.04 449.38 L321.26 448.03 L322.48 446.69 L323.71 445.35 L324.94 444.01 L326.18 442.68 L327.42 441.36 L328.67 440.04 L329.92 438.73 L331.18 437.42 L332.44 436.12 L333.71 434.83 L334.99 433.55 L336.28 432.27 L337.57 431 L338.87 429.74 L340.18 428.49 L341.5 427.25 L342.83 426.02 L344.16 424.8 L345.51 423.58 L346.87 422.38 L348.23 421.19 L349.61 420.01 L350.99 418.84 L352.39 417.68 L353.79 416.53 L355.2 415.39 L356.63 414.27 L358.06 413.15 L359.5 412.05 L360.95 410.95 L362.41 409.87 L363.87 408.8 L365.35 407.74 L366.83 406.69 L368.33 405.65 L369.83 404.62 L371.33 403.6 L372.85 402.6 L374.37 401.6 L375.91 400.62 L377.44 399.65 L378.99 398.69 L380.54 397.74 L382.11 396.8 L383.67 395.87 L385.25 394.96 L386.83 394.06 L388.42 393.16 L390.01 392.28 L391.61 391.42 L393.22 390.56 L394.84 389.71 L396.46 388.88 L398.08 388.06 L399.71 387.25 L401.35 386.45 L402.99 385.67 L404.64 384.89 L406.29 384.13 L407.95 383.38 L409.62 382.64 L411.29 381.92 L412.96 381.2 L414.64 380.5 L416.32 379.81 L418.01 379.13 L419.7 378.47 L421.4 377.82 L423.1 377.18 L424.81 376.55 L426.51 375.93 L428.23 375.33 L429.94 374.73 L431.66 374.15 L433.39 373.57 L435.11 373.01 L436.84 372.46 L438.57 371.91 L440.31 371.38 L442.05 370.85 L443.79 370.34 L445.53 369.83 L447.28 369.33 L449.03 368.84 L450.78 368.35 L452.53 367.87 L454.29 367.4 L456.05 366.93 L457.81 366.47 L459.57 366.02 L461.33 365.57 L463.09 365.13 L464.86 364.69 L466.62 364.25 L468.37 363.79 L470.07 363.25 L471.71 362.61 L473.25 361.83 L474.69 360.86 L475.99 359.67 L477.14 358.23 L478.1 356.49 L478.95 354.58 L479.81 352.78 L480.83 351.37 L481.45 350.91" fill="none" stroke="#EE7D30" stroke-width="2.6" stroke-linejoin="round" stroke-linecap="round"/>
<path d="M252.89 597.09l4.8 4.8M252.89 601.89l4.8 -4.8M252.89 596.81l4.8 4.8M252.89 601.61l4.8 -4.8M252.89 595.98l4.8 4.8M252.89 600.78l4.8 -4.8M252.9 594.61l4.8 4.8M252.9 599.41l4.8 -4.8M252.92 592.73l4.8 4.8M252.92 597.53l4.8 -4.8M252.96 590.36l4.8 4.8M252.96 595.16l4.8 -4.8M253.03 587.5l4.8 4.8M253.03 592.3l4.8 -4.8M253.14 584.18l4.8 4.8M253.14 588.98l4.8 -4.8M253.3 580.42l4.8 4.8M253.3 585.22l4.8 -4.8M253.54 576.24l4.8 4.8M253.54 581.04l4.8 -4.8M253.87 571.65l4.8 4.8M253.87 576.45l4.8 -4.8M254.32 566.67l4.8 4.8M254.32 571.47l4.8 -4.8M254.93 561.34l4.8 4.8M254.93 566.14l4.8 -4.8M255.72 555.66l4.8 4.8M255.72 560.46l4.8 -4.8M256.74 549.68l4.8 4.8M256.74 554.48l4.8 -4.8M258.03 543.43l4.8 4.8M258.03 548.23l4.8 -4.8M259.65 536.93l4.8 4.8M259.65 541.73l4.8 -4.8M261.64 530.24l4.8 4.8M261.64 535.04l4.8 -4.8M264.06 523.4l4.8 4.8M264.06 528.2l4.8 -4.8M266.93 516.47l4.8 4.8M266.93 521.27l4.8 -4.8M270.26 509.49l4.8 4.8M270.26 514.29l4.8 -4.8M274.05 502.49l4.8 4.8M274.05 507.29l4.8 -4.8M278.29 495.53l4.8 4.8M278.29 500.33l4.8 -4.8M282.97 488.63l4.8 4.8M282.97 493.43l4.8 -4.8M288.02 481.79l4.8 4.8M288.02 486.59l4.8 -4.8M293.39 475.01l4.8 4.8M293.39 479.81l4.8 -4.8M299.01 468.26l4.8 4.8M299.01 473.06l4.8 -4.8M304.81 461.52l4.8 4.8M304.81 466.32l4.8 -4.8M310.72 454.76l4.8 4.8M310.72 459.56l4.8 -4.8M316.74 447.98l4.8 4.8M316.74 452.78l4.8 -4.8M322.88 441.24l4.8 4.8M322.88 446.04l4.8 -4.8M329.19 434.59l4.8 4.8M329.19 439.39l4.8 -4.8M335.69 428.1l4.8 4.8M335.69 432.9l4.8 -4.8M342.4 421.82l4.8 4.8M342.4 426.62l4.8 -4.8M349.35 415.81l4.8 4.8M349.35 420.61l4.8 -4.8M356.51 410.1l4.8 4.8M356.51 414.9l4.8 -4.8M363.84 404.7l4.8 4.8M363.84 409.5l4.8 -4.8M371.33 399.62l4.8 4.8M371.33 404.42l4.8 -4.8M378.93 394.87l4.8 4.8M378.93 399.67l4.8 -4.8M386.61 390.44l4.8 4.8M386.61 395.24l4.8 -4.8M394.34 386.34l4.8 4.8M394.34 391.14l4.8 -4.8M402.09 382.56l4.8 4.8M402.09 387.36l4.8 -4.8M409.82 379.12l4.8 4.8M409.82 383.92l4.8 -4.8M417.51 375.99l4.8 4.8M417.51 380.79l4.8 -4.8M425.12 373.18l4.8 4.8M425.12 377.98l4.8 -4.8M432.61 370.64l4.8 4.8M432.61 375.44l4.8 -4.8M439.95 368.36l4.8 4.8M439.95 373.16l4.8 -4.8M447.11 366.3l4.8 4.8M447.11 371.1l4.8 -4.8M454.05 364.43l4.8 4.8M454.05 369.23l4.8 -4.8M460.76 362.71l4.8 4.8M460.76 367.51l4.8 -4.8M467.16 361.02l4.8 4.8M467.16 365.82l4.8 -4.8M472.72 358.1l4.8 4.8M472.72 362.9l4.8 -4.8M476.1 353.22l4.8 4.8M476.1 358.02l4.8 -4.8M479.05 348.51l4.8 4.8M479.05 353.31l4.8 -4.8" stroke="#EE7D30" stroke-width="1.1" fill="none"/>
<line x1="424.5" x2="440.3" y1="505.6" y2="505.6" stroke="#4A80C4" stroke-width="1.9"/>
<circle cx="432.6" cy="505.6" r="2.3" fill="#4A80C4"/>
<text transform="translate(441.8,508.8) scale(0.953,1.100)" font-size="8.6" fill="#111" text-anchor="start" stroke="#111" stroke-width="0.18">Disgust Exercise</text>
<line x1="424.5" x2="440.3" y1="521.1" y2="521.1" stroke="#C24A45" stroke-width="1.9"/>
<circle cx="432.6" cy="521.1" r="2.3" fill="#C24A45"/>
<text transform="translate(441.8,524.3) scale(0.991,1.100)" font-size="8.6" fill="#111" text-anchor="start" stroke="#111" stroke-width="0.18">Neutral Exercise</text>
<line x1="424.5" x2="440.3" y1="536.6" y2="536.6" stroke="#9BBF55" stroke-width="1.9"/>
<circle cx="432.6" cy="536.6" r="2.3" fill="#9BBF55"/>
<text transform="translate(441.8,539.8) scale(0.943,1.100)" font-size="8.6" fill="#111" text-anchor="start" stroke="#111" stroke-width="0.18">Fear Exercise</text>
<line x1="424.5" x2="440.3" y1="552.1" y2="552.1" stroke="#7645B0" stroke-width="1.9"/>
<path d="M429.4 549.7l6.4 4.8M429.4 554.5l6.4 -4.8" stroke="#7645B0" stroke-width="1"/>
<text transform="translate(441.8,555.3) scale(0.987,1.100)" font-size="8.6" fill="#111" text-anchor="start" stroke="#111" stroke-width="0.18">Disgust Normal</text>
<line x1="424.5" x2="440.3" y1="567.6" y2="567.6" stroke="#45A5C2" stroke-width="1.9"/>
<path d="M429.4 565.2l6.4 4.8M429.4 570l6.4 -4.8" stroke="#45A5C2" stroke-width="1"/>
<text transform="translate(441.8,570.8) scale(1.029,1.100)" font-size="8.6" fill="#111" text-anchor="start" stroke="#111" stroke-width="0.18">Neutral Normal</text>
<line x1="424.5" x2="440.3" y1="583.1" y2="583.1" stroke="#EE7D30" stroke-width="1.9"/>
<path d="M429.4 580.7l6.4 4.8M429.4 585.5l6.4 -4.8" stroke="#EE7D30" stroke-width="1"/>
<text transform="translate(441.8,586.3) scale(0.984,1.100)" font-size="8.6" fill="#111" text-anchor="start" stroke="#111" stroke-width="0.18">Fear Normal</text>
</g></svg>
</body></html>
